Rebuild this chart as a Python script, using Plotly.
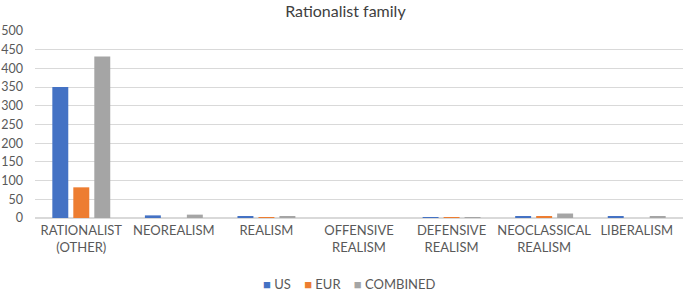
import plotly.graph_objects as go

categories = ["RATIONALIST<br>(OTHER)", "NEOREALISM", "REALISM", "OFFENSIVE<br>REALISM",
              "DEFENSIVE<br>REALISM", "NEOCLASSICAL<br>REALISM", "LIBERALISM"]
us = [350, 7, 3, 0, 1, 5, 5]
eur = [82, 0, 1, 0, 0.5, 5, 0]
combined = [432, 9, 4, 0, 1.5, 12, 5]
series_names = ["US", "EUR", "COMBINED"]
colors = ["#4472C4", "#ED7D31", "#A5A5A5"]

FONT = "Lato, sans-serif"

fig = go.Figure()
for name, vals, c in zip(series_names, [us, eur, combined], colors):
    fig.add_trace(go.Bar(x=categories, y=vals, name=name, marker_color=c,
                         marker_line_width=0, showlegend=False))

# compact legend drawn as text (coloured squares + series names)
legend_text = "&nbsp;&nbsp;&nbsp;&nbsp;".join(
    f"<span style='color:{c}'>■</span> {n}" for n, c in zip(series_names, colors))
fig.add_annotation(text=legend_text, xref="paper", yref="paper", x=0.485, y=-0.353,
                   xanchor="center", yanchor="middle", showarrow=False,
                   font=dict(family=FONT, size=13, color="#595959"))

fig.update_layout(
    width=684, height=293,
    margin=dict(l=35, r=1, t=31, b=75, autoexpand=False),
    paper_bgcolor="white", plot_bgcolor="white",
    font=dict(family=FONT, size=13, color="#595959"),
    title=dict(text="Rationalist family", x=0.505, xanchor="center", y=0.962, yanchor="middle",
               font=dict(family=FONT, size=16, color="#404040")),
    barmode="group", bargap=0.32, bargroupgap=0.24,
)
fig.update_yaxes(range=[0, 500], dtick=50, showgrid=True, gridcolor="#D9D9D9", gridwidth=1,
                 zeroline=True, zerolinecolor="#D9D9D9", ticks="", automargin=False,
                 tickfont=dict(family=FONT, size=12.5, color="#595959"),
                 ticklabelstandoff=11)
fig.update_xaxes(showline=True, linecolor="#D9D9D9", ticks="", tickangle=0, automargin=False,
                 tickfont=dict(family=FONT, size=13, color="#595959"))

fig.write_html("out.html", config={"displayModeBar": False},
               post_script="document.body.style.margin='0';")
